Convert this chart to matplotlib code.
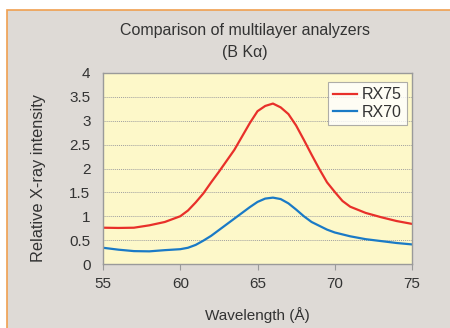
import matplotlib
matplotlib.use("Agg")
import matplotlib.pyplot as plt
from matplotlib.patches import Rectangle

# Data
wavelength = [55, 56, 57, 58, 59, 60, 60.5, 61, 61.5, 62, 62.5, 63, 63.5, 64, 64.5, 65, 65.5,
              66, 66.5, 67, 67.5, 68, 68.5, 69, 69.5, 70, 70.5, 71, 72, 73, 74, 75]
rx75 = [0.76, 0.755, 0.76, 0.81, 0.88, 1.00, 1.12, 1.29, 1.48, 1.71, 1.93, 2.16, 2.39, 2.67, 2.95,
        3.20, 3.31, 3.36, 3.28, 3.14, 2.90, 2.60, 2.29, 1.99, 1.71, 1.51, 1.32, 1.20, 1.07, 0.98,
        0.90, 0.84]
rx70 = [0.34, 0.30, 0.27, 0.265, 0.29, 0.31, 0.34, 0.40, 0.49, 0.59, 0.71, 0.83, 0.95, 1.07, 1.19,
        1.30, 1.37, 1.39, 1.36, 1.27, 1.14, 1.00, 0.88, 0.80, 0.72, 0.66, 0.62, 0.58, 0.52, 0.48,
        0.44, 0.41]
series_names = ["RX75", "RX70"]
x_ticks = [55, 60, 65, 70, 75]
y_ticks = [0, 0.5, 1, 1.5, 2, 2.5, 3, 3.5, 4]
y_tick_labels = ["0", "0.5", "1", "1.5", "2", "2.5", "3", "3.5", "4"]

plt.rcParams['font.family'] = ['Liberation Sans', 'DejaVu Sans']

fig = plt.figure(figsize=(4.5, 3.28), dpi=100)
fig.patch.set_facecolor("white")

# grey panel with orange border on the left and top
panel = Rectangle((7 / 450, -0.05), 1.1, 1 - 10 / 328 + 0.05, transform=fig.transFigure,
                  facecolor="#dedad6", edgecolor="#f0a050", linewidth=1.2, zorder=-10)
fig.add_artist(panel)

ax = fig.add_axes([103 / 450, 1 - 264 / 328, 309 / 450, 191 / 328])
ax.set_zorder(1)
ax.set_facecolor("#fdf8c9")

ax.plot(wavelength, rx75, color="#e8302a", linewidth=1.6, label=series_names[0])
ax.plot(wavelength, rx70, color="#1a7ac6", linewidth=1.6, label=series_names[1])

ax.set_xlim(55, 75)
ax.set_ylim(0, 4)
ax.set_xticks(x_ticks)
ax.set_yticks(y_ticks)
ax.set_yticklabels(y_tick_labels)

ax.yaxis.grid(True, linestyle=(0, (1, 1)), color="#a0a0a0", linewidth=0.7)
ax.set_axisbelow(True)

for side in ax.spines.values():
    side.set_color("#9a9a9a")
    side.set_linewidth(1.0)

ax.tick_params(axis="x", direction="out", length=4, color="#9a9a9a", labelsize=11,
               labelcolor="#333333", pad=5)
ax.tick_params(axis="y", length=0, labelsize=11, labelcolor="#333333", pad=9)

ax.set_xlabel("Wavelength (Å)", fontsize=11, color="#333333", labelpad=12)
# y label placed by hand so it sits where the original one does
fig.text(38.5 / 450, 1 - 177.5 / 328, "Relative X-ray intensity", rotation=90,
         ha="center", va="center", fontsize=11.8, color="#333333")

fig.text(0.545, 1 - 30 / 328, "Comparison of multilayer analyzers", ha="center", va="center",
         fontsize=11.5, color="#333333")
fig.text(0.545, 1 - 52 / 328, "(B K\u03b1)", ha="center", va="center", fontsize=11.5, color="#333333")

leg = ax.legend(loc="upper right", bbox_to_anchor=(0.985, 0.955), fontsize=11.5, frameon=True,
                fancybox=False, handlelength=1.5, handletextpad=0.3, borderpad=0.35,
                labelspacing=0.15, borderaxespad=0)
leg.get_frame().set_edgecolor("#9a9a9a")
leg.get_frame().set_linewidth(0.8)
for t in leg.get_texts():
    t.set_color("#333333")

fig.savefig("out.png", dpi=100)
